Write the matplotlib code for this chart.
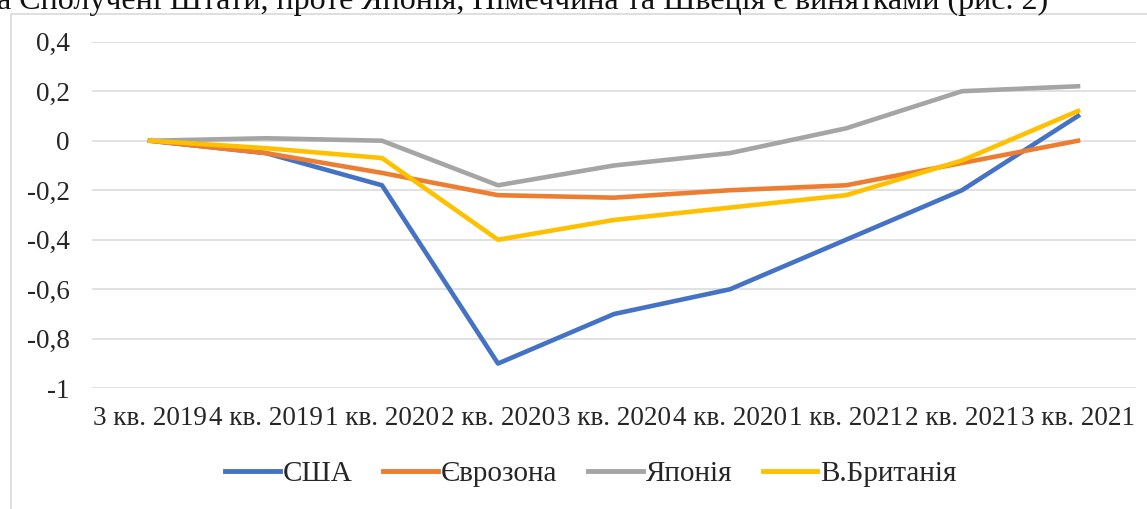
import matplotlib
matplotlib.use("Agg")
import matplotlib.pyplot as plt
from matplotlib.patches import Rectangle

# ---------- Data ----------
quarters = ["3 кв. 2019", "4 кв. 2019", "1 кв. 2020", "2 кв. 2020", "3 кв. 2020",
            "4 кв. 2020", "1 кв. 2021", "2 кв. 2021", "3 кв. 2021"]
usa = [0, -0.05, -0.18, -0.90, -0.70, -0.60, -0.40, -0.20, 0.10]
eurozone = [0, -0.05, -0.13, -0.22, -0.23, -0.20, -0.18, -0.09, 0.0]
japan = [0, 0.01, 0.0, -0.18, -0.10, -0.05, 0.05, 0.20, 0.22]
uk = [0, -0.03, -0.07, -0.40, -0.32, -0.27, -0.22, -0.08, 0.12]

series = [("США", usa, "#4472C4"),
          ("Єврозона", eurozone, "#ED7D31"),
          ("Японія", japan, "#A5A5A5"),
          ("В.Британія", uk, "#FFC000")]
y_ticks = [0.4, 0.2, 0, -0.2, -0.4, -0.6, -0.8, -1]
caption = "а Сполучені Штати, проте Японія, Німеччина та Швеція є винятками (рис. 2)"

plt.rcParams["font.family"] = ["Liberation Serif", "DejaVu Serif"]

W, H = 1147, 509
FS = 19.5
fig = plt.figure(figsize=(W / 100, H / 100), dpi=100)

# axes placed in pixel terms
left, right, top, bottom = 92, 1136, 41.7, 388.3
ax = fig.add_axes([left / W, 1 - bottom / H, (right - left) / W, (bottom - top) / H])

x = range(len(quarters))
for name, vals, col in series:
    ax.plot(x, vals, color=col, linewidth=3.3, label=name)

ax.set_xlim(-0.5, len(quarters) - 0.5)
ax.set_ylim(-1, 0.4)
ax.set_yticks(y_ticks)
ax.set_yticklabels([("%g" % v).replace(".", ",") for v in y_ticks])
ax.set_xticks(list(x))
ax.set_xticklabels(quarters)
ax.tick_params(axis="both", length=0, labelsize=FS, colors="#262626")
ax.tick_params(axis="y", pad=16)
ax.tick_params(axis="x", pad=12.5)
ax.grid(axis="y", color="#D9D9D9", linewidth=1.1)
ax.set_axisbelow(True)
for s in ax.spines.values():
    s.set_visible(False)

leg = fig.legend(loc="center", bbox_to_anchor=(591 / W, 1 - 474 / H), ncol=4,
                 frameon=False, fontsize=21, handlelength=1.86, handletextpad=0.1,
                 columnspacing=1.07)
for ln in leg.get_lines():
    ln.set_linewidth(3.5)
for t in leg.get_texts():
    t.set_color("#262626")

# chart frame (runs off the right and bottom edges of the crop)
fig.patches.append(Rectangle((11 / W, -0.2), 1.2, 1 - 13.5 / H + 0.2,
                             transform=fig.transFigure, fill=False,
                             edgecolor="#D9D9D9", linewidth=1.2))

# cut-off line of body text above the chart
fig.text(-0.003, 1 - 9.5 / H, caption, fontsize=23, va="baseline", ha="left", color="#111111")

fig.savefig("out.png", dpi=100)
